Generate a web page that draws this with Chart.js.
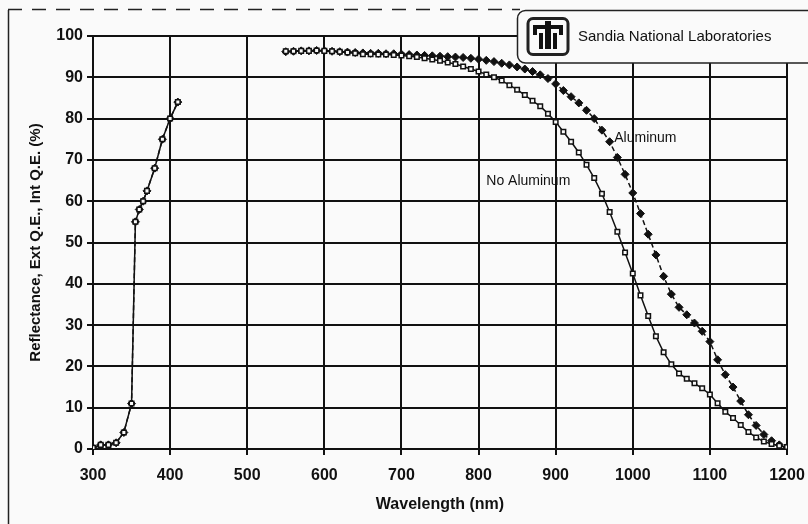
<!DOCTYPE html>
<html>
<head>
<meta charset="utf-8">
<script src="https://cdn.jsdelivr.net/npm/chart.js@4"></script>
<style>
  body { margin: 0; background: #fafafa; }
  canvas { display: block; }
</style>
</head>
<body>
<canvas id="spectrumChart" width="808" height="524"></canvas>
<script>
// wavelength (nm), shared by both series; null marks the part lost in the scan
const wavelengths = [300, 310, 320, 330, 340, 350, 355, 360, 365, 370, 380, 390, 400, 410, 480,
    550, 560, 570, 580, 590, 600, 610, 620, 630, 640,
    650, 660, 670, 680, 690, 700, 710, 720, 730, 740,
    750, 760, 770, 780, 790, 800, 810, 820, 830, 840,
    850, 860, 870, 880, 890, 900, 910, 920, 930, 940,
    950, 960, 970, 980, 990, 1000, 1010, 1020, 1030, 1040,
    1050, 1060, 1070, 1080, 1090, 1100, 1110, 1120, 1130, 1140,
    1150, 1160, 1170, 1180, 1190, 1200];

const noAluminum = [0.3, 1, 1, 1.5, 4, 11, 55, 58, 60, 62.5, 68, 75, 80, 84, null,
    96.3, 96.3, 96.4, 96.4, 96.5, 96.4, 96.3, 96.2, 96.0, 95.8,
    95.6, 95.6, 95.5, 95.5, 95.4, 95.3, 95.1, 94.9, 94.6, 94.3,
    94.0, 93.6, 93.2, 92.6, 92.0, 91.4, 90.7, 90.0, 89.2, 88.1,
    87.0, 85.7, 84.3, 83.0, 81.2, 79.2, 76.8, 74.4, 71.8, 68.8,
    65.6, 61.8, 57.4, 52.6, 47.6, 42.5, 37.2, 32.2, 27.3, 23.4,
    20.5, 18.3, 17.0, 15.9, 14.7, 13.2, 11.1, 9.0, 7.5, 5.8,
    4.1, 2.8, 1.8, 1.2, 0.8, 0.5];

const aluminum = [0.3, 1, 1, 1.5, 4, 11, 55, 58, 60, 62.5, 68, 75, 80, 84, null,
    96.2, 96.3, 96.4, 96.4, 96.5, 96.4, 96.3, 96.2, 96.1, 96.0,
    95.9, 95.8, 95.8, 95.7, 95.7, 95.6, 95.5, 95.4, 95.3, 95.2,
    95.1, 95.0, 94.9, 94.8, 94.6, 94.4, 94.1, 93.8, 93.4, 93.0,
    92.5, 92.0, 91.4, 90.6, 89.7, 88.4, 86.8, 85.3, 83.8, 82.0,
    80.0, 77.2, 74.4, 70.6, 66.5, 62.0, 57.0, 52.0, 47.0, 41.8,
    37.5, 34.3, 32.5, 30.5, 28.5, 26.0, 21.6, 18.0, 15.0, 11.6,
    8.3, 5.7, 3.5, 2.0, 1.0, 0.5];

const xTicks = [300, 400, 500, 600, 700, 800, 900, 1000, 1100, 1200];
const yTicks = [0, 10, 20, 30, 40, 50, 60, 70, 80, 90, 100];

// labels written next to the curves: [text, wavelength, value]
const curveLabels = [
    ['Aluminum', 976, 75.3],
    ['No Aluminum', 810, 64.9]
];

const toPoints = (vals) => wavelengths.map((w, i) => ({ x: w, y: vals[i] }));

// page background + the scanned frame
const framePlugin = {
    id: 'frame',
    beforeDraw(chart) {
        const c = chart.ctx;
        c.save();
        c.fillStyle = '#fafafa';
        c.fillRect(0, 0, chart.width, chart.height);
        c.strokeStyle = '#222';
        c.lineWidth = 1.5;
        c.beginPath();
        c.moveTo(8.5, 10);
        c.lineTo(8.5, chart.height);
        c.stroke();
        c.setLineDash([14, 10]);
        c.beginPath();
        c.moveTo(8, 9.5);
        c.lineTo(520, 9.5);
        c.stroke();
        c.restore();
    }
};

// curve names and the Sandia box
const notesPlugin = {
    id: 'notes',
    afterDraw(chart) {
        const c = chart.ctx;
        const xs = chart.scales.x, ys = chart.scales.y;
        c.save();
        c.fillStyle = '#111';
        c.font = '14px "Liberation Sans", Arial, sans-serif';
        c.textBaseline = 'middle';
        curveLabels.forEach(([txt, w, v]) => {
            c.fillText(txt, xs.getPixelForValue(w), ys.getPixelForValue(v));
        });

        // logo box
        c.fillStyle = '#fafafa';
        c.strokeStyle = '#222';
        c.lineWidth = 1.5;
        c.beginPath();
        c.roundRect(517.5, 10.5, 320, 52.5, 8);
        c.fill();
        c.stroke();

        c.lineWidth = 3;
        c.beginPath();
        c.roundRect(528, 18.5, 40, 36, 5);
        c.stroke();
        c.fillStyle = '#111';
        c.fillRect(533, 25, 30, 4);
        c.fillRect(533, 25, 4, 10);
        c.fillRect(559, 25, 4, 10);
        c.fillRect(545, 21, 6, 28);
        c.fillRect(539, 33, 4, 16);
        c.fillRect(553, 33, 4, 16);

        c.font = '15px "Liberation Sans", Arial, sans-serif';
        c.fillText('Sandia National Laboratories', 578, 37);
        c.restore();
    }
};

const tickFont = { family: '"Liberation Sans", Arial, sans-serif', size: 16, weight: 'bold' };

const ctx = document.getElementById('spectrumChart').getContext('2d');

new Chart(ctx, {
    type: 'line',
    data: {
        datasets: [{
            label: 'No Aluminum',
            data: toPoints(noAluminum),
            borderColor: '#111',
            borderWidth: 1.5,
            pointStyle: 'rect',
            pointRadius: 3.2,
            pointBorderWidth: 1.5,
            pointBackgroundColor: '#fafafa',
            pointBorderColor: '#111',
            spanGaps: false,
            tension: 0
        },
        {
            label: 'Aluminum',
            data: toPoints(aluminum),
            borderColor: '#111',
            borderWidth: 1.5,
            borderDash: [5, 3],
            pointStyle: 'rectRot',
            pointRadius: 4,
            pointBorderWidth: 1,
            pointBackgroundColor: '#111',
            pointBorderColor: '#111',
            spanGaps: false,
            tension: 0
        }]
    },
    options: {
        responsive: false,
        animation: false,
        layout: {
            padding: { left: 24, right: 21, top: 36, bottom: 0 }
        },
        scales: {
            x: {
                type: 'linear',
                min: 300,
                max: 1200,
                afterFit(scale) {
                    scale.height = 75;
                    scale.paddingLeft = 0;
                    scale.paddingRight = 0;
                },
                afterBuildTicks(scale) { scale.ticks = xTicks.map(v => ({ value: v })); },
                grid: { color: '#111', lineWidth: 2, tickLength: 6, tickColor: '#111' },
                border: { color: '#111', width: 2 },
                ticks: {
                    color: '#111',
                    padding: 11,
                    maxRotation: 0,
                    callback: (v) => String(v),
                    font: tickFont
                },
                title: {
                    display: true,
                    text: 'Wavelength (nm)',
                    color: '#111',
                    padding: { top: 1, bottom: 10 },
                    font: tickFont
                }
            },
            y: {
                min: 0,
                max: 100,
                afterFit(scale) { scale.width = 69; },
                afterBuildTicks(scale) { scale.ticks = yTicks.map(v => ({ value: v })); },
                grid: { color: '#111', lineWidth: 2, tickLength: 6, tickColor: '#111' },
                border: { color: '#111', width: 2 },
                ticks: {
                    color: '#111',
                    padding: 4,
                    callback: (v) => String(v),
                    font: tickFont
                },
                title: {
                    display: true,
                    text: 'Reflectance, Ext Q.E., Int Q.E. (%)',
                    color: '#111',
                    padding: { top: 3, bottom: 0 },
                    font: { family: '"Liberation Sans", Arial, sans-serif', size: 15, weight: 'bold' }
                }
            }
        },
        plugins: {
            legend: { display: false },
            tooltip: { enabled: false }
        }
    },
    plugins: [framePlugin, notesPlugin]
});
</script>
</body>
</html>
